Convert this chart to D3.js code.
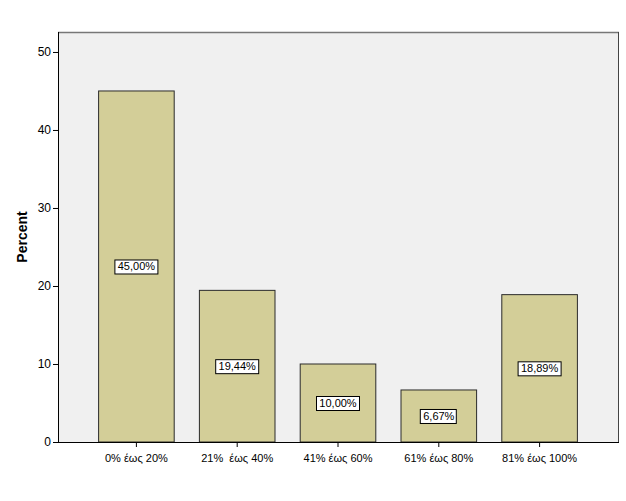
<!DOCTYPE html>
<html>
<head>
<meta charset="utf-8">
<script src="https://cdn.jsdelivr.net/npm/d3@7"></script>
<style>
  body { margin: 0; background: #fff; }
  svg text { font-family: "Liberation Sans", Arial, sans-serif; white-space: pre; }
</style>
</head>
<body>
<div id="chart"></div>
<script>
const categories = ["0% έως 20%", "21%  έως 40%", "41% έως 60%", "61% έως 80%", "81% έως 100%"];
const percents = [45.0, 19.44, 10.0, 6.67, 18.89];
const labels = ["45,00%", "19,44%", "10,00%", "6,67%", "18,89%"];
const yTicks = [0, 10, 20, 30, 40, 50];

const width = 626;
const height = 501;
const plotLeft = 58, plotRight = 619, plotTop = 32, plotBottom = 442;

const svg = d3
  .select("#chart")
  .append("svg")
  .attr("width", width)
  .attr("height", height);

// plot background
svg.append("rect")
  .attr("x", plotLeft).attr("y", plotTop)
  .attr("width", plotRight - plotLeft).attr("height", plotBottom - plotTop)
  .attr("fill", "#f0f0f0");

const xScale = d3
  .scaleBand()
  .domain(categories)
  .range([86, 590])
  .paddingInner(0.25)
  .paddingOuter(0.125);

const yScale = d3
  .scaleLinear()
  .domain([0, 52.56])
  .range([plotBottom, plotTop]);

// frame: top grey, right dark
svg.append("line")
  .attr("x1", plotLeft).attr("x2", plotRight).attr("y1", plotTop + 0.5).attr("y2", plotTop + 0.5)
  .attr("stroke", "#777").attr("stroke-width", 1.5);
svg.append("line")
  .attr("x1", plotRight - 0.5).attr("x2", plotRight - 0.5).attr("y1", plotTop).attr("y2", plotBottom)
  .attr("stroke", "#444");

svg.selectAll("rect.bar")
  .data(percents)
  .enter()
  .append("rect")
  .attr("class", "bar")
  .attr("x", (d, i) => xScale(categories[i]))
  .attr("y", (d) => yScale(d))
  .attr("width", xScale.bandwidth())
  .attr("height", (d) => plotBottom - yScale(d))
  .attr("fill", "#d3ce98")
  .attr("stroke", "#2b2b2b")
  .attr("stroke-width", 1);

// value labels in boxes at half height
const lab = svg.selectAll("g.lab")
  .data(percents)
  .enter()
  .append("g")
  .attr("class", "lab")
  .attr("transform", (d, i) =>
    `translate(${xScale(categories[i]) + xScale.bandwidth() / 2}, ${yScale(d / 2)})`);

lab.append("text")
  .attr("text-anchor", "middle")
  .attr("dy", "0.36em")
  .attr("font-size", 11)
  .attr("fill", "#000")
  .text((d, i) => labels[i]);

lab.each(function () {
  const g = d3.select(this);
  const bb = g.select("text").node().getBBox();
  g.insert("rect", "text")
    .attr("x", Math.round(bb.x) - 2.5)
    .attr("y", -6.5)
    .attr("width", Math.round(bb.width) + 5)
    .attr("height", 14)
    .attr("fill", "#fff")
    .attr("stroke", "#000");
});

const xAxis = d3.axisBottom(xScale).tickSize(5).tickSizeOuter(0).tickPadding(7);
const yAxis = d3.axisLeft(yScale).tickValues(yTicks).tickSize(5).tickSizeOuter(0).tickPadding(2);

const gx = svg.append("g").attr("transform", `translate(0, ${plotBottom})`).call(xAxis);
gx.select(".domain").attr("d", `M${plotLeft},0.5H${plotRight}`).attr("stroke", "#000");
gx.selectAll("text").attr("font-size", 11).attr("fill", "#000");

const gy = svg.append("g").attr("transform", `translate(${plotLeft}, 0)`).call(yAxis);
gy.select(".domain").attr("d", `M0.5,${plotTop}V${plotBottom}`).attr("stroke", "#000");
gy.selectAll("text").attr("font-size", 12).attr("fill", "#000");

svg.append("text")
  .attr("transform", `translate(27, 237) rotate(-90)`)
  .attr("text-anchor", "middle")
  .attr("font-size", 14)
  .attr("font-weight", "bold")
  .text("Percent");
</script>
</body>
</html>
